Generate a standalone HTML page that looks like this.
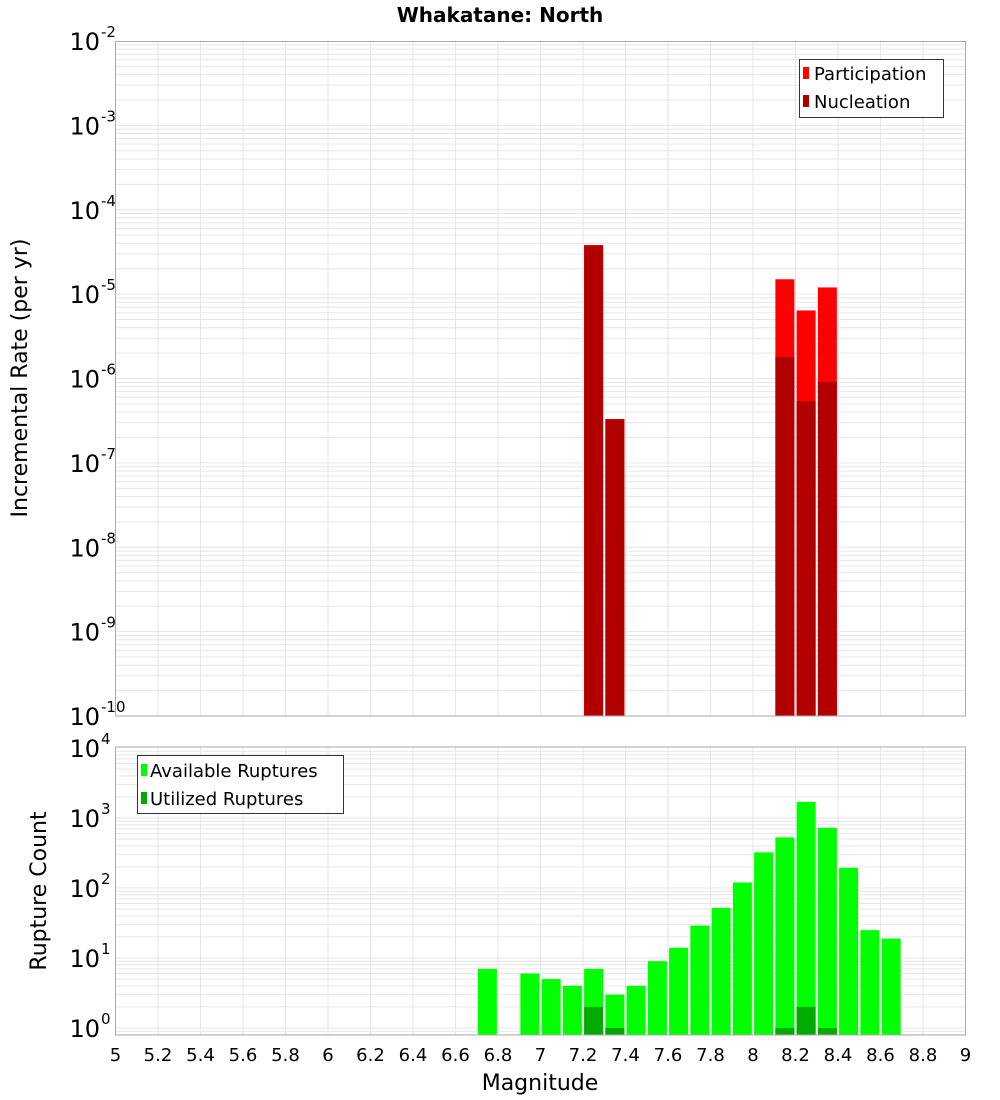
<!DOCTYPE html>
<html><head><meta charset="utf-8"><style>
body{margin:0;background:#fff}
svg{display:block;font-family:"DejaVu Sans","Liberation Sans",sans-serif}
</style></head><body>
<svg id="c" width="1000" height="1100" xmlns="http://www.w3.org/2000/svg">
<text x="500" y="22" text-anchor="middle" font-size="20" font-weight="bold">Whakatane: North</text>
<g id="topg"></g>
<g id="botg"></g>
<text transform="translate(27,378) rotate(-90)" text-anchor="middle" font-size="22">Incremental Rate (per yr)</text>
<text transform="translate(46,891) rotate(-90)" text-anchor="middle" font-size="22">Rupture Count</text>
<text x="540" y="1090" text-anchor="middle" font-size="22">Magnitude</text>
<g>
<rect x="799.5" y="59.5" width="144" height="58" fill="#fff" stroke="#333"/>
<rect x="803" y="67" width="6" height="12" fill="#ff0000"/>
<text x="814" y="80" font-size="18">Participation</text>
<rect x="803" y="95" width="6" height="12" fill="#b20000"/>
<text x="814" y="108" font-size="18">Nucleation</text>
</g>
<g>
<rect x="137.5" y="755.5" width="206" height="58" fill="#fff" stroke="#333"/>
<rect x="141" y="764" width="6" height="12" fill="#00ff00"/>
<text x="150" y="777" font-size="18">Available Ruptures</text>
<rect x="141" y="792" width="6" height="12" fill="#00aa00"/>
<text x="150" y="805" font-size="18">Utilized Ruptures</text>
</g>
</svg>
<script>
const xTicks=[5,5.2,5.4,5.6,5.8,6,6.2,6.4,6.6,6.8,7,7.2,7.4,7.6,7.8,8,8.2,8.4,8.6,8.8,9];
const rateMags=[7.25,7.35,8.15,8.25,8.35];
const participation=[3.8e-5,3.3e-7,1.5e-5,6.4e-6,1.2e-5];
const nucleation=[3.8e-5,3.3e-7,1.8e-6,5.4e-7,9.1e-7];
const countMags=[6.75,6.95,7.05,7.15,7.25,7.35,7.45,7.55,7.65,7.75,7.85,7.95,8.05,8.15,8.25,8.35,8.45,8.55,8.65];
const available=[7,6,5,4,7,3,4,9,14,29,52,120,323,529,1700,725,194,25,19];
const utilized=[0,0,0,0,2,1,0,0,0,0,0,0,0,1,2,1,0,0,0];
const topExps=[-10,-9,-8,-7,-6,-5,-4,-3,-2];
const botExps=[0,1,2,3,4];

const NS='http://www.w3.org/2000/svg';
const L=115.5,R=965.5;
const xs=m=>L+(m-5)/4*(R-L);
const TT=41.5,TB=716;
const yTop=v=>TB-(Math.log10(v)+10)*84.375;
const BT=747,BB=1035;
const yBot=v=>1028-Math.log10(v)*70;
function mk(p,tag,a){const e=document.createElementNS(NS,tag);for(const k in a)e.setAttribute(k,a[k]);p.appendChild(e);return e;}
const topG=document.getElementById('topg'),botG=document.getElementById('botg');
function grid(g,t,b,yf,e0,e1){
  for(let e=e0;e<=e1;e++)for(let k=1;k<10;k++){const y=yf(k*Math.pow(10,e));if(y>=t&&y<=b){const l=mk(g,'line',{x1:L,x2:R,y1:y,y2:y,stroke:'#e6e6e6','stroke-width':1});

}}
  xTicks.forEach(m=>{const l=mk(g,'line',{x1:xs(m),x2:xs(m),y1:t,y2:b,stroke:'#e6e6e6','stroke-width':1});

});
}
grid(topG,TT,TB,yTop,-10,-3);
grid(botG,BT,BB,yBot,-1,3);
const bw=19;
rateMags.forEach((m,i)=>{
  const x=xs(m)-bw/2;
  const p=mk(topG,'rect',{x:x,y:yTop(participation[i]),width:bw,height:TB-yTop(participation[i]),fill:'#ff0000'});
  
  
  const n=mk(topG,'rect',{x:x,y:yTop(nucleation[i]),width:bw,height:TB-yTop(nucleation[i]),fill:'#b20000'});
  
  
});
countMags.forEach((m,i)=>{
  const x=xs(m)-bw/2;
  const a=mk(botG,'rect',{x:x,y:yBot(available[i]),width:bw,height:BB-yBot(available[i]),fill:'#00ff00'});
  
  
  if(utilized[i]>0){
    const u=mk(botG,'rect',{x:x,y:yBot(utilized[i]),width:bw,height:BB-yBot(utilized[i]),fill:'#00aa00'});
    
    
  }
});
const f1=mk(topG,'rect',{x:L,y:TT,width:R-L,height:TB-TT,fill:'none',stroke:'#aaa'});


const f2=mk(botG,'rect',{x:L,y:BT,width:R-L,height:BB-BT,fill:'none',stroke:'#aaa'});


function ylab(g,y,e){
  const t=mk(g,'text',{x:100,y:y+9,'text-anchor':'end','font-size':24});
  t.textContent='10';
  
  
  const s=mk(g,'text',{x:101,y:y-4,'font-size':15});
  s.textContent=String(e);
  
  
}
topExps.forEach(e=>ylab(topG,yTop(Math.pow(10,e)),e));
botExps.forEach(e=>ylab(botG,yBot(Math.pow(10,e)),e));
xTicks.forEach(m=>{
  const t=mk(botG,'text',{x:xs(m),y:1061,'text-anchor':'middle','font-size':18});
  t.textContent=String(m);
  
  
});
</script>
</body></html>
